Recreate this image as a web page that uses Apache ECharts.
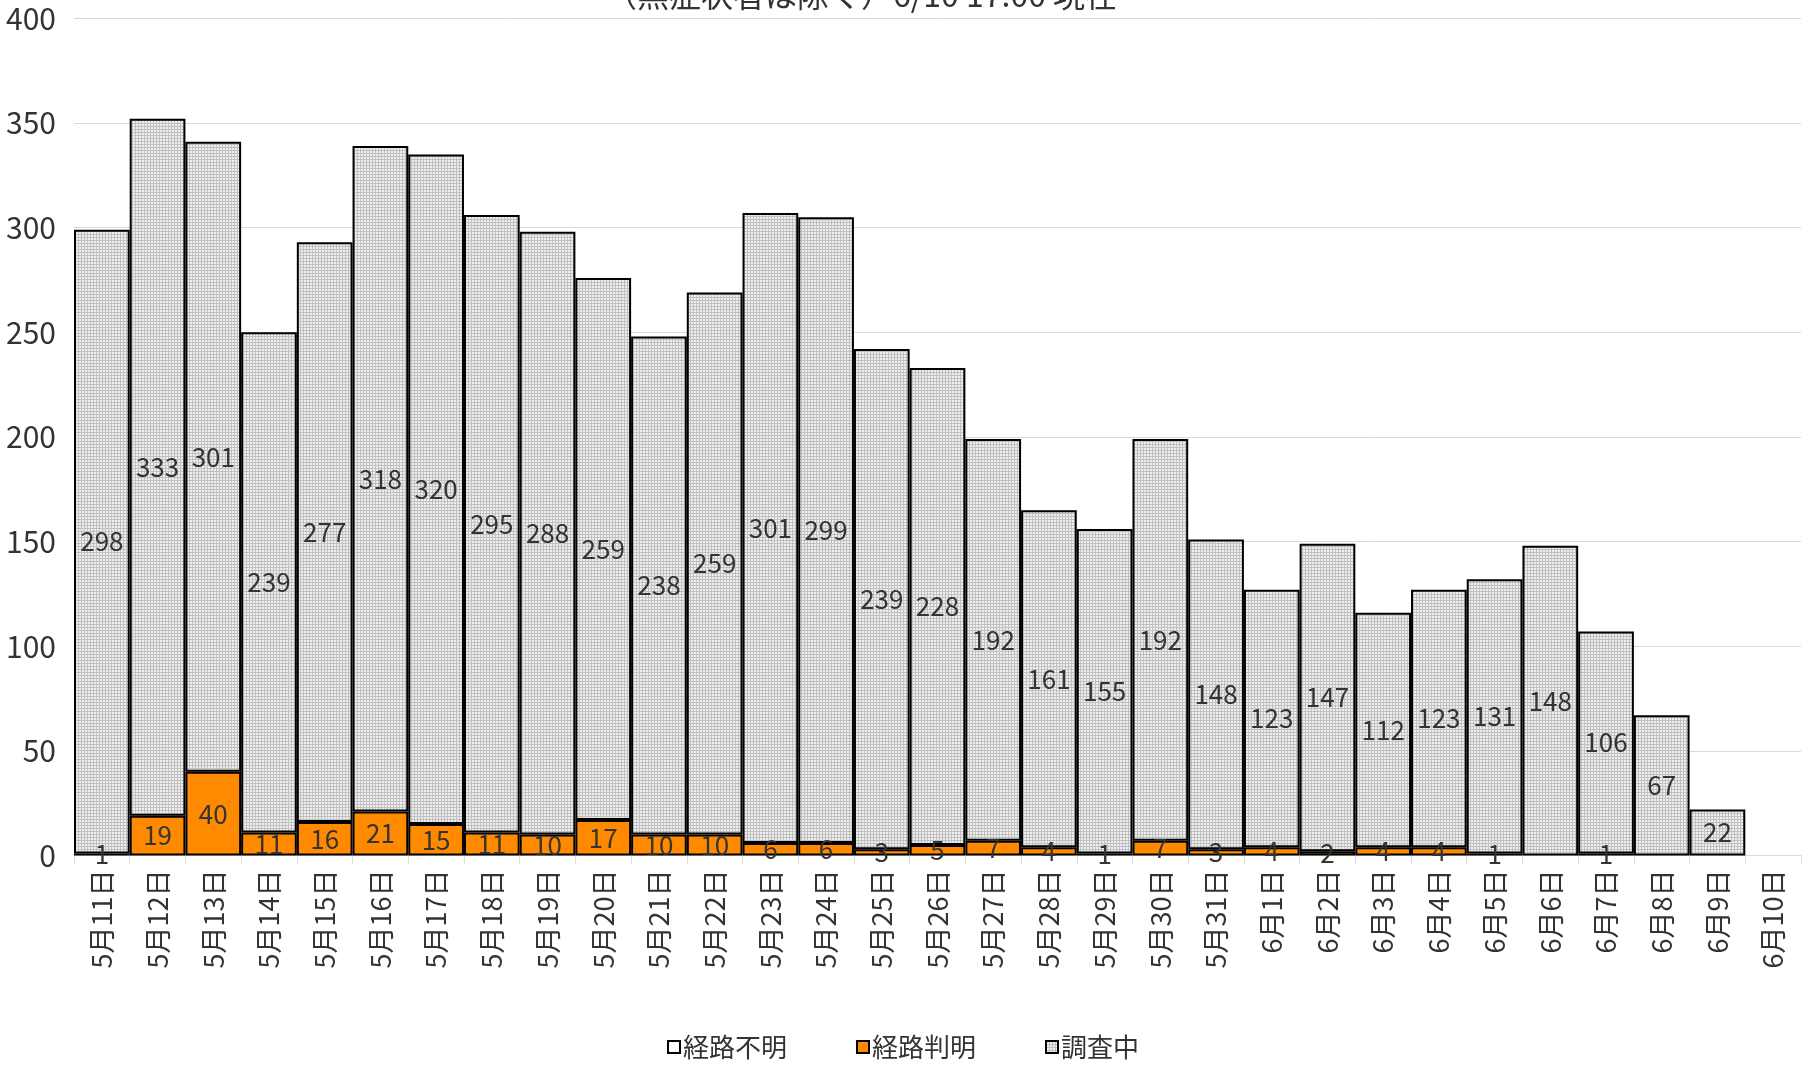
<!DOCTYPE html>
<html>
<head>
<meta charset="utf-8">
<script src="https://cdn.jsdelivr.net/npm/echarts@6/dist/echarts.min.js"></script>
<style>
html,body{margin:0;padding:0;background:#fff;}
#chart{width:1806px;height:1067px;}
</style>
</head>
<body>
<div id="chart"></div>
<script>
const categories = ['5月11日','5月12日','5月13日','5月14日','5月15日','5月16日','5月17日','5月18日','5月19日','5月20日','5月21日','5月22日','5月23日','5月24日','5月25日','5月26日','5月27日','5月28日','5月29日','5月30日','5月31日','6月1日','6月2日','6月3日','6月4日','6月5日','6月6日','6月7日','6月8日','6月9日','6月10日'];
const routeKnown = [1,19,40,11,16,21,15,11,10,17,10,10,6,6,3,5,7,4,1,7,3,4,2,4,4,1,0,1,0,0,0];
const routeUnknown = [0,0,0,0,0,0,0,0,0,0,0,0,0,0,0,0,0,0,0,0,0,0,0,0,0,0,0,0,0,0,0];
const investigating = [298,333,301,239,277,318,320,295,288,259,238,259,301,299,239,228,192,161,155,192,148,123,147,112,123,131,148,106,67,22,0];
const yTicks = {min:0, max:400, interval:50};
const titleText = '（無症状者は除く）6/10 17:00 現在';

const FONT = '"Noto Sans CJK JP", "Noto Sans", sans-serif';

const pc = document.createElement('canvas');
pc.width = 3; pc.height = 3;
const pctx = pc.getContext('2d');
pctx.fillStyle = '#efefef'; pctx.fillRect(0,0,3,3);
pctx.fillStyle = '#c0c0c0';
pctx.fillRect(0,0,3,1); pctx.fillRect(0,0,1,3);
const pattern = {image: pc, repeat: 'repeat'};

const nz = arr => arr.map(v => v === 0 ? null : v);
const labelCfg = {
  show: true, position: 'inside', color: '#333', fontSize: 26, fontFamily: FONT,
  formatter: p => (p.value ? String(p.value) : '')
};

const chart = echarts.init(document.getElementById('chart'));
chart.setOption({
  animation: false,
  backgroundColor: '#fff',
  title: {
    text: titleText, left: 600, top: -26,
    textStyle: {fontSize: 32, fontWeight: 'normal', color: '#333', fontFamily: FONT}
  },
  grid: {left: 74, right: 5, top: 18.4, bottom: 211.5, containLabel: false},
  legend: {
    bottom: 2, left: 'center', itemWidth: 12, itemHeight: 12, itemGap: 69,
    icon: 'rect',
    textStyle: {fontSize: 26, color: '#333', fontFamily: FONT, padding: [0,0,0,-2]},
    data: ['経路不明', '経路判明', '調査中']
  },
  xAxis: {
    type: 'category', data: categories, boundaryGap: true,
    axisLine: {lineStyle: {color: '#d9d9d9', width: 1}},
    axisTick: {show: true, alignWithLabel: false, length: 8, lineStyle: {color: '#d9d9d9'}},
    axisLabel: {rotate: 90, fontSize: 27, color: '#333', fontFamily: FONT, margin: 14, interval: 0}
  },
  yAxis: {
    type: 'value', min: yTicks.min, max: yTicks.max, interval: yTicks.interval,
    axisLine: {show: false}, axisTick: {show: false},
    axisLabel: {fontSize: 30, color: '#333', fontFamily: FONT, margin: 18},
    splitLine: {lineStyle: {color: '#d9d9d9', width: 1}}
  },
  series: [
    {
      name: '経路判明', type: 'bar', stack: 'total', data: nz(routeKnown),
      barCategoryGap: '0%',
      itemStyle: {color: '#ff8a00', borderColor: '#000', borderWidth: 2},
      label: labelCfg
    },
    {
      name: '経路不明', type: 'bar', stack: 'total', data: nz(routeUnknown),
      barCategoryGap: '0%',
      itemStyle: {color: '#fff', borderColor: '#000', borderWidth: 1},
      label: labelCfg
    },
    {
      name: '調査中', type: 'bar', stack: 'total', data: nz(investigating),
      barCategoryGap: '0%',
      itemStyle: {color: pattern, borderColor: '#000', borderWidth: 2},
      label: labelCfg
    }
  ]
});
</script>
</body>
</html>
